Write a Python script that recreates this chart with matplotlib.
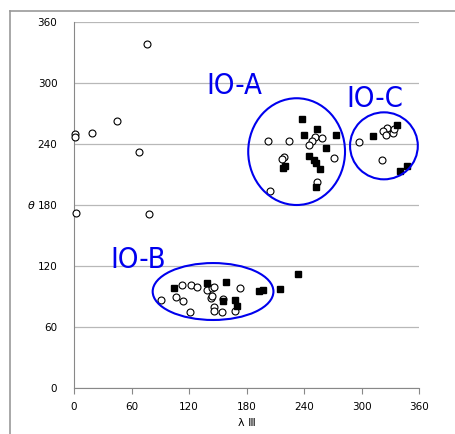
import matplotlib
matplotlib.use("Agg")
import matplotlib.pyplot as plt
from matplotlib.patches import Ellipse
from matplotlib.lines import Line2D

# open circles (lambda III, theta)
open_x = [75.9, 45.2, 19.1, 1.4, 1.4, 67.8, 2.4, 78.3,
          202.8, 224.1, 251.3, 258.6, 248.1, 245.6, 271.4, 218.9, 216.8, 253.7, 204.9,
          297.8, 326.7, 322.2, 325.4, 333.3, 334.4, 321.8,
          90.5, 106.8, 114.1, 113.0, 122.1, 128.0, 138.5, 143.7, 146.1, 143.0, 143.7,
          155.9, 146.5, 146.1, 154.2, 121.1, 167.7, 173.3]
open_y = [338, 263, 251, 250, 246.5, 232, 171.8, 170.8,
          242.9, 242.9, 246.8, 245.8, 243.2, 238.6, 225.8, 227.5, 225.5, 203.1, 194,
          242.2, 255.3, 252.3, 248.8, 250.4, 254.3, 224.2,
          86.8, 89.5, 85.9, 101.6, 101.6, 98.9, 96.4, 98.0, 99.6, 88.1, 90.1,
          87.5, 79.3, 75.7, 74.4, 75.0, 76.0, 98.3]

# filled squares
sq_x = [238.3, 254.0, 240.4, 273.8, 263.0, 245.6, 250.8, 253.0, 256.4, 220.2, 217.8, 253.0,
        312.4, 336.8, 340.3, 347.9,
        104.4, 138.5, 158.9, 155.5, 168.4, 170.5, 193.4, 197.0, 215.0, 233.8]
sq_y = [265, 254.3, 249, 249, 236, 228.4, 224.2, 221.5, 215.6, 218.3, 216.6, 197.3,
        248.1, 258.3, 213.7, 218.3,
        98.3, 102.9, 104.0, 86.0, 86.5, 80.6, 95.7, 96.4, 97.6, 112.1]

# groups: label, label pos, ellipse center, width, height
groups = ["IO-A", "IO-B", "IO-C"]
label_x = [138, 38, 284]
label_y = [289, 118, 276]
ell_cx = [232.3, 145.1, 323.4]
ell_cy = [232.5, 94.9, 238.2]
ell_w = [101, 126, 70.7]
ell_h = [105, 56, 65.9]

fig = plt.figure(figsize=(4.55, 4.34), dpi=100)
ax = fig.add_axes([74 / 455, 1 - 388 / 434, 345 / 455, 366 / 434])

ax.set_xlim(0, 360)
ax.set_ylim(0, 360)
ax.set_xticks(range(0, 361, 60))
ax.set_yticks(range(0, 361, 60))
ax.grid(axis="y", color="#b8b8b8", linewidth=0.9)
ax.set_axisbelow(True)
for s in ["top", "right"]:
    ax.spines[s].set_visible(False)
for s in ["left", "bottom"]:
    ax.spines[s].set_color("#888888")
ax.tick_params(axis="x", length=4, color="#888888", labelsize=7.5, pad=6)
ax.tick_params(axis="y", length=0, labelsize=7.5, pad=12)

ax.plot(open_x, open_y, "o", ms=5, mfc="white", mec="black", mew=0.8,
        linestyle="none", clip_on=False, zorder=3)
ax.plot(sq_x, sq_y, "s", ms=5, color="black", linestyle="none", zorder=4)

for i in range(len(groups)):
    ax.add_patch(Ellipse((ell_cx[i], ell_cy[i]), ell_w[i], ell_h[i],
                         fill=False, edgecolor="#0000ee", linewidth=1.5, zorder=5))
    ax.text(label_x[i], label_y[i], groups[i], color="#0000ee", fontsize=21,
            family="DejaVu Sans", fontstretch="condensed", fontweight="light",
            ha="left", va="baseline")

fig.text(31 / 455, 1 - 206 / 434, "θ", fontsize=8, style="italic", ha="center", va="center")
fig.text(247 / 455, 1 - 423 / 434, "λ Ⅲ", fontsize=8, ha="center", va="center")

# outer frame (top and left edges only)
fig.add_artist(Line2D([10 / 455, 10 / 455], [0, 1 - 11 / 434], color="#999999", lw=1.2))
fig.add_artist(Line2D([10 / 455, 1], [1 - 11 / 434, 1 - 11 / 434], color="#999999", lw=1.2))

fig.savefig("out.png", dpi=100)
